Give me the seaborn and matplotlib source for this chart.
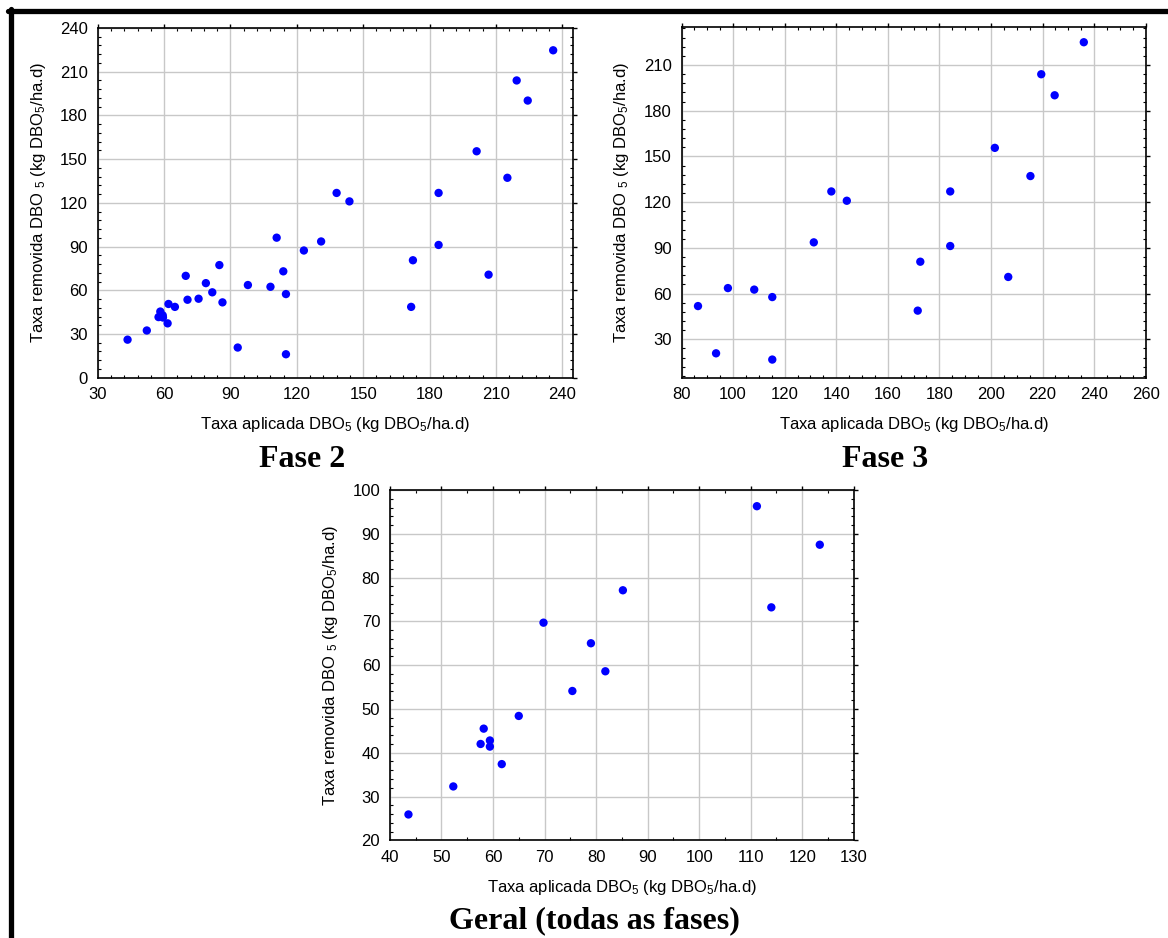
import pandas as pd
import matplotlib
matplotlib.use("Agg")
import matplotlib.pyplot as plt
import seaborn as sns
from matplotlib.ticker import MultipleLocator, AutoMinorLocator
from matplotlib.lines import Line2D

# ----------------------------------------------------------------------------------------------
# Data (applied vs removed BOD5 load, kg DBO5/ha.d)
# ----------------------------------------------------------------------------------------------
fase2_aplicada = [43.5, 52.2, 57.5, 58.3, 59.4, 59.5, 61.6, 62.0, 64.9, 69.8,
                  70.6, 75.6, 78.9, 81.8, 85.0, 86.4, 93.3, 97.9, 108.1, 110.9,
                  113.9, 115.1, 115.1, 123.2, 131.0, 138.0, 143.8, 171.7, 172.5, 184.1,
                  184.1, 201.3, 206.7, 215.2, 219.4, 224.4, 235.9]
fase2_removida = [26.1, 32.4, 41.6, 45.4, 42.8, 41.3, 37.3, 50.6, 48.6, 69.9,
                  53.5, 54.2, 64.9, 58.6, 77.3, 51.7, 20.7, 63.6, 62.4, 96.1,
                  73.0, 57.4, 16.1, 87.3, 93.5, 126.8, 121.0, 48.6, 80.6, 126.8,
                  91.1, 155.4, 70.7, 137.2, 204.0, 190.2, 224.7]

fase3_aplicada = [86.4, 93.4, 98.0, 108.2, 115.2, 115.2, 131.3, 138.1, 144.1, 171.6,
                  172.6, 184.2, 184.2, 201.5, 206.7, 215.3, 219.5, 224.7, 236.0]
fase3_removida = [51.8, 20.8, 63.6, 62.6, 57.7, 16.7, 93.6, 127.0, 120.9, 48.8,
                  80.9, 127.0, 91.2, 155.6, 70.9, 137.1, 203.9, 190.1, 224.9]

geral_aplicada = [43.6, 52.3, 57.6, 58.2, 59.4, 59.4, 61.7, 65.0, 69.8, 75.4,
                  79.0, 81.8, 85.2, 111.2, 114.0, 123.4]
geral_removida = [25.9, 32.3, 42.0, 45.5, 42.8, 41.4, 37.4, 48.4, 69.7, 54.1,
                  65.0, 58.6, 77.1, 96.3, 73.2, 87.5]

titles = ["Fase 2", "Fase 3", "Geral (todas as fases)"]
xlabel = r"Taxa aplicada DBO$_5$ (kg DBO$_5$/ha.d)"
ylabel = r"Taxa removida DBO $_5$ (kg DBO$_5$/ha.d)"

# ----------------------------------------------------------------------------------------------
# Style
# ----------------------------------------------------------------------------------------------
sns.set_style("white")
plt.rcParams["font.family"] = ["Liberation Sans", "DejaVu Sans"]
plt.rcParams["mathtext.default"] = "regular"
plt.rcParams["text.color"] = "black"
plt.rcParams["axes.labelcolor"] = "black"

W, H = 1168, 938
fig = plt.figure(figsize=(W / 100, H / 100), dpi=100)


def px_axes(left, top, right, bottom):
    return fig.add_axes([left / W, 1 - bottom / H, (right - left) / W, (bottom - top) / H])


def style_axes(ax, xlim, ylim, xmaj, ymaj, xminor, yminor):
    ax.set_xlim(*xlim)
    ax.set_ylim(*ylim)
    ax.xaxis.set_major_locator(MultipleLocator(xmaj))
    ax.yaxis.set_major_locator(MultipleLocator(ymaj))
    ax.xaxis.set_minor_locator(AutoMinorLocator(xminor))
    ax.yaxis.set_minor_locator(AutoMinorLocator(yminor))
    ax.grid(True, which="major", color="#c8c8c8", linewidth=1.0)
    ax.set_axisbelow(True)
    for s in ax.spines.values():
        s.set_color("black")
        s.set_linewidth(1.2)
    ax.tick_params(which="major", direction="out", length=3, width=1, labelsize=12,
                   top=True, right=True, pad=4, colors="black")
    ax.tick_params(which="minor", direction="in", length=2.5, width=0.8,
                   top=True, right=True, bottom=True, left=True, colors="black")
    ax.set_xlabel(xlabel, fontsize=12, labelpad=9)
    ax.set_ylabel(ylabel, fontsize=12, labelpad=9)


panels = [
    (fase2_aplicada, fase2_removida, (97.7, 28, 573.3, 377.7), (30, 245), (0, 240), 30, 30, 5, 5),
    (fase3_aplicada, fase3_removida, (681.5, 27.3, 1145.7, 377.7), (80, 260), (4.8, 234.7), 20, 30, 4, 5),
    (geral_aplicada, geral_removida, (389.9, 490, 853.8, 840.3), (40, 130), (20, 100), 10, 10, 2, 5),
]

for xs, ys, box, xlim, ylim, xmaj, ymaj, xminor, yminor in panels:
    ax = px_axes(*box)
    df = pd.DataFrame({"aplicada": xs, "removida": ys})
    sns.scatterplot(data=df, x="aplicada", y="removida", ax=ax,
                    color="#0000ff", s=36, edgecolor="none", zorder=3)
    style_axes(ax, xlim, ylim, xmaj, ymaj, xminor, yminor)

# Panel captions
title_font = dict(family=["Liberation Serif", "DejaVu Serif"], fontweight="bold", fontsize=23,
                  ha="center", va="center", color="black")
fig.text(302 / W, 1 - 459 / H, titles[0], **title_font)
fig.text(885 / W, 1 - 459 / H, titles[1], **title_font)
fig.text(594 / W, 1 - 921 / H, titles[2], **title_font)

# Black page frame (top and left edges)
fig.add_artist(Line2D([8 / W, 1.0], [1 - 11.5 / H, 1 - 11.5 / H], transform=fig.transFigure,
                      color="black", linewidth=3.8))
fig.add_artist(Line2D([10.5 / W, 10.5 / W], [1 - 9 / H, 0.0], transform=fig.transFigure,
                      color="black", linewidth=3.8))

plt.savefig("out.png", dpi=100)
plt.close()
